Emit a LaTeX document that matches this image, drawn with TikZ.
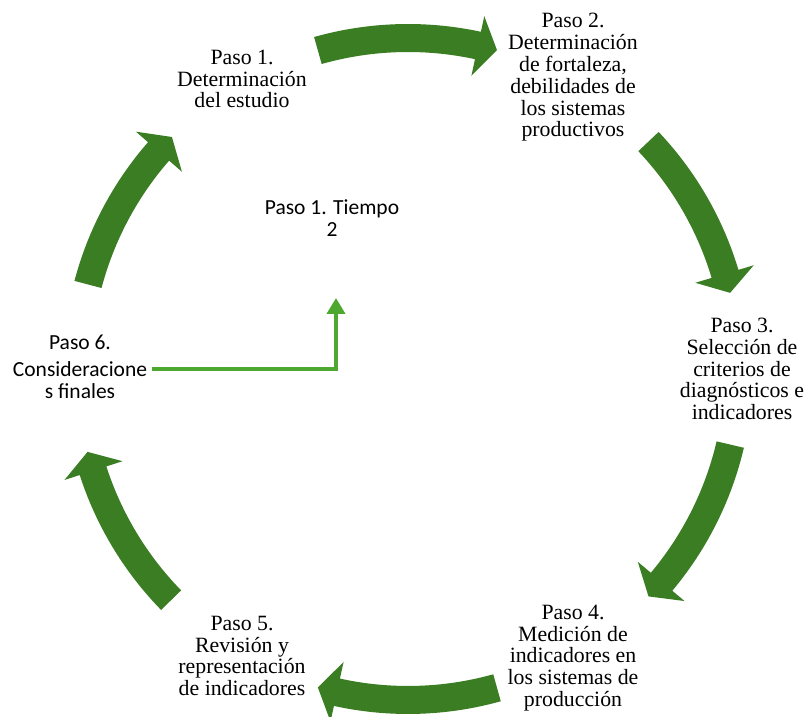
\documentclass[tikz,border=0pt]{standalone}
\usepackage{fontspec}
\setmainfont{Liberation Serif}
\newfontfamily\calibri{Carlito}
\usetikzlibrary{arrows.meta}

\definecolor{darkgreen}{HTML}{3A7D22}
\definecolor{lightgreen}{HTML}{4EA72E}

\tikzset{
    steptext/.style={align=center, inner sep=0pt, font=\rmfamily\fontsize{21.8}{21.8}\selectfont},
    sanstext/.style={align=center, inner sep=0pt, font=\calibri\fontsize{21.5}{22}\selectfont},
    cyclefill/.style={fill=darkgreen},
    link/.style={lightgreen, line width=4pt, -{Triangle[width=18pt,length=16pt]}}
}

% curved block arrow on the cycle: #1 tail angle, #2 tip angle
\newcommand{\cyclearrow}[2]{%
    \pgfmathsetmacro{\hb}{#2+3.4}
    \fill[cyclefill] (#1:345) arc[start angle=#1, end angle=\hb, radius=345]
        -- (\hb:361) -- (#2:331) -- (\hb:300) -- (\hb:317)
        arc[start angle=\hb, end angle=#1, radius=317] -- cycle;
}

\begin{document}
\begin{tikzpicture}[x=1pt, y=1pt]

    \useasboundingbox (0,0) rectangle (806,717);

    %% Cycle of arrows
    \begin{scope}[shift={(408,348)}]
        \cyclearrow{105.8}{74.4}    % top
        \cyclearrow{43.4}{13.3}     % right, upper
        \cyclearrow{-13.2}{-43.4}   % right, lower
        \cyclearrow{-74.4}{-105.8}  % bottom
        \cyclearrow{-135.7}{-165.5} % left, lower
        \cyclearrow{165.2}{135.5}   % left, upper
    \end{scope}

    %% Steps
    \node[steptext] (paso1) at (242,638) {Paso 1.\\Determinación\\del estudio};
    \node[steptext] (paso2) at (573,639.5) {Paso 2.\\Determinación\\de fortaleza,\\debilidades de\\los sistemas\\productivos};
    \node[steptext] (paso3) at (742,348) {Paso 3.\\Selección de\\criterios de\\diagnósticos e\\indicadores};
    \node[steptext] (paso4) at (573,59) {Paso 4.\\Medición de\\indicadores en\\los sistemas de\\producción};
    \node[steptext] (paso5) at (242,61) {Paso 5.\\Revisión y\\representación\\de indicadores};
    \node[sanstext] (paso6) at (80,350) {Paso 6.\\[5pt]Consideracione\\s finales};

    % Centre
    \node[sanstext] (tiempo) at (332,499) {Paso 1. Tiempo\\2};
    \coordinate (fin) at (336,419);
    \draw[link] ([xshift=5pt,yshift=-2pt]paso6.east) -| (fin);

\end{tikzpicture}
\end{document}
